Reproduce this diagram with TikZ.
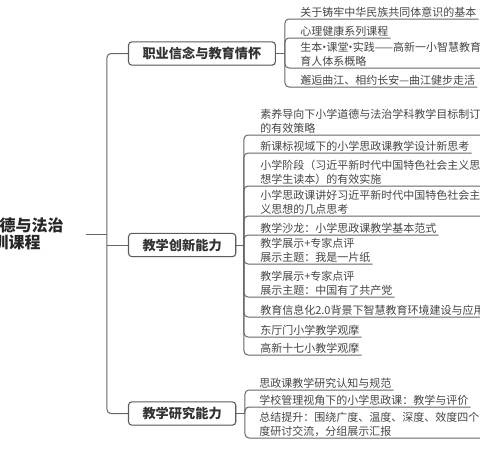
\documentclass[tikz,border=0pt]{standalone}
\usepackage{fontspec}
\setmainfont{Noto Sans CJK SC}
\usetikzlibrary{shadows}
\definecolor{linegray}{HTML}{666666}
\definecolor{boxgray}{HTML}{5C5C5C}
\definecolor{itemtext}{HTML}{454545}
\newcommand\middot{\makebox[3.2pt]{·}}

\begin{document}
\begin{tikzpicture}[x=0.75pt,y=-0.75pt]
    \tikzstyle{root}=[anchor=east, inner sep=0pt, text width=64.5pt, align=left, font=\bfseries\fontsize{12}{12.75}\selectfont, text=black!85]
    \tikzstyle{topic}=[anchor=west, draw=boxgray, line width=0.8pt, fill=white, rounded corners=2.5pt, minimum height=17.5pt, inner xsep=10.5pt, inner ysep=0pt, font=\bfseries\fontsize{9.9}{11}\selectfont, text=black!80, drop shadow={opacity=0.2, shadow xshift=0.5pt, shadow yshift=-0.5pt}]
    \tikzstyle{item}=[anchor=south west, inner xsep=1.5pt, inner ysep=1pt, align=left, font=\fontsize{8.25}{10.5}\selectfont, text=itemtext]
    \tikzstyle{link}=[draw=linegray, line width=0.75pt]
    \tikzstyle{branch}=[link, rounded corners=3pt]

    \useasboundingbox (0,0) rectangle (480,450);
    \clip (0,0) rectangle (480,450);

    \node[root] (root) at (86,234) {德与法治\\\hspace*{-5.25pt}训课程};
    \coordinate (trunk) at (107,234);

    \node[topic] (c1) at (128,53.5) {职业信念与教育情怀};
    \node[topic] (c2) at (128,245) {教学创新能力};
    \node[topic] (c3) at (128,413.5) {教学研究能力};

    \coordinate (b1) at (285,53.5);
    \coordinate (b2) at (244,245);
    \coordinate (b3) at (245,413.5);

    % 职业信念与教育情怀
    \node[item] (p1) at (298,19) {关于铸牢中华民族共同体意识的基本};
    \node[item] (p2) at (298,38) {心理健康系列课程};
    \node[item] (p3) at (298,68) {生本\middot 课堂\middot 实践——高新一小智慧教育\\育人体系概略};
    \node[item] (p4) at (298,87) {邂逅曲江、相约长安—曲江健步走活};

    % 教学创新能力
    \node[item] (q1) at (258,135) {素养导向下小学道德与法治学科教学目标制订\\的有效策略};
    \node[item] (q2) at (258,153) {新课标视域下的小学思政课教学设计新思考};
    \node[item] (q3) at (258,186) {小学阶段（习近平新时代中国特色社会主义思\\想学生读本）的有效实施};
    \node[item] (q4) at (258,216) {小学思政课讲好习近平新时代中国特色社会主\\义思想的几点思考};
    \node[item] (q5) at (258,235) {教学沙龙：小学思政课教学基本范式};
    \node[item] (q6) at (258,264) {教学展示+专家点评\\展示主题：我是一片纸};
    \node[item] (q7) at (258,297) {教学展示+专家点评\\展示主题：中国有了共产党};
    \node[item] (q8) at (258,317) {教育信息化2.0背景下智慧教育环境建设与应用};
    \node[item] (q9) at (258,337) {东厅门小学教学观摩};
    \node[item] (q10) at (258,355) {高新十七小教学观摩};

    % 教学研究能力
    \node[item] (r1) at (257,390) {思政课教学研究认知与规范};
    \node[item] (r2) at (257,407) {学校管理视角下的小学思政课：教学与评价};
    \node[item] (r3) at (257,438) {总结提升：围绕广度、温度、深度、效度四个\\度研讨交流，分组展示汇报};

    \draw[link] (root.east) -- (trunk);
    \draw[branch] (c1.west) -| (trunk) |- (c3.west);
    \draw[link] (trunk |- c2.west) -- (c2.west);

    \draw[link] (c1.east) -- (b1);
    \draw[link] (c2.east) -- (b2);
    \draw[link] (c3.east) -- (b3);

    \foreach \n in {p1,p2,p3,p4}
        \draw[branch] (b1) |- (\n.south east);
    \foreach \n in {q1,q2,q3,q4,q5,q6,q7,q8,q9,q10}
        \draw[branch] (b2) |- (\n.south east);
    \foreach \n in {r1,r2,r3}
        \draw[branch] (b3) |- (\n.south east);
\end{tikzpicture}
\end{document}
